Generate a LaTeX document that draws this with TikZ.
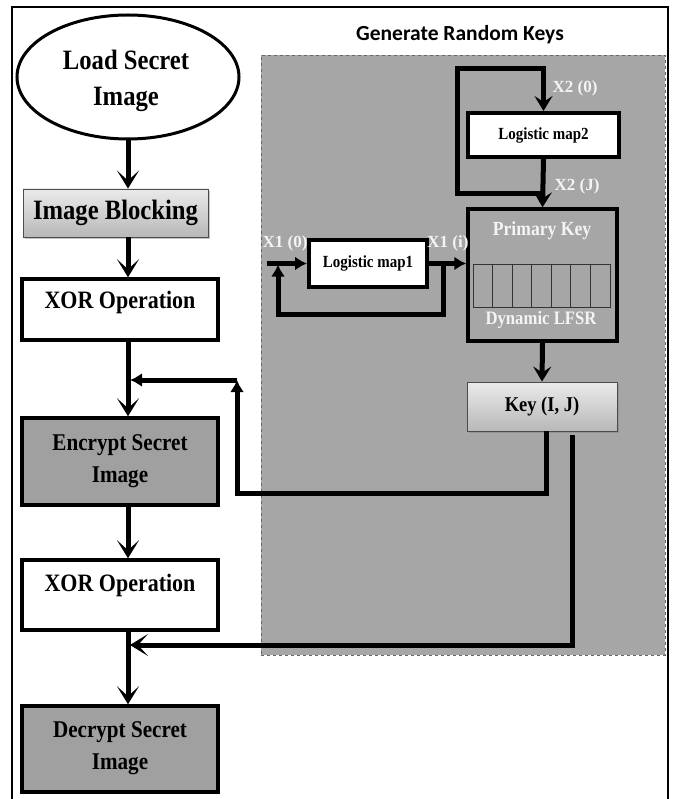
\documentclass[tikz,border=0pt]{standalone}
\usepackage{fontspec}
\setmainfont{Liberation Serif}
\newfontfamily\titlefont{Carlito}
\usepackage{graphicx}
\usetikzlibrary{arrows.meta,shapes.geometric,shadows}
\newcommand{\cz}[1]{\scalebox{0.88}[1]{#1}}
\newcommand{\fs}[1]{\fontsize{#1}{#1}\selectfont}
\definecolor{regiongray}{HTML}{A6A6A6}
\definecolor{boxgray}{HTML}{A0A0A0}
\definecolor{lbl}{HTML}{F4F4F4}
\begin{document}
\begin{tikzpicture}[x=1pt,y=-1pt,
  box/.style={draw=black,line width=3.5pt,inner sep=0pt,fill=white},
  graybox/.style={box,fill=boxgray},
  shadebox/.style={draw=black!70,line width=0.9pt,inner sep=0pt,top color=white!92!black,bottom color=black!28,drop shadow={shadow xshift=2pt,shadow yshift=-2pt,opacity=0.45}},
  txt/.style={font=\bfseries,align=center,inner sep=0pt},
  wlbl/.style={font=\bfseries\fs{17},text=lbl,inner sep=0pt},
  flow/.style={line width=5pt},
  mainarr/.style={flow,-{Stealth[length=18pt,width=22pt,inset=10pt]}},
  tri/.style={line width=5pt,-{Latex[length=12pt,width=14pt]}},
  stl/.style={line width=5pt,-{Stealth[length=15pt,width=18pt,inset=6pt]}}
]
\useasboundingbox (0,0) rectangle (673,799);
\fill[white] (0,0) rectangle (673,799);
% outer frame
\draw[line width=1.2pt] (12,799) -- (12,7) -- (668,7) -- (668,799);

% region
\node[draw=black!60,dashed,line width=0.8pt,fill=regiongray,minimum width=404,minimum height=600,inner sep=0] (region) at (463,355) {};
\node[font=\titlefont\bfseries\fs{21.5}] (title) at (460,35) {Generate Random Keys};

% left column
\coordinate (mx) at (128,0);
\node[ellipse,draw,line width=3pt,fill=white,minimum width=222,minimum height=124,inner sep=0] (load) at (128,77) {};
\node[txt,font=\bfseries\fontsize{28}{36}\selectfont] (loadt) at (126,81) {\cz{Load Secret}\\\cz{Image}};
\node[shadebox,minimum width=185,minimum height=48] (ib) at (115.5,213) {};
\node[txt,font=\bfseries\fs{28}] (ibt) at (ib.center) {\cz{Image Blocking}};
\node[box,minimum width=196,minimum height=61] (xor1) at (120,309.5) {};
\node[txt,font=\bfseries\fs{25}] (xor1t) at (120,302) {\cz{XOR Operation}};
\node[graybox,minimum width=196,minimum height=87] (enc) at (120,461.5) {};
\node[txt,font=\bfseries\fontsize{24}{32}\selectfont] (enct) at (120,461) {\cz{Encrypt Secret}\\\cz{Image}};
\node[box,minimum width=196,minimum height=70] (xor2) at (120,595) {};
\node[txt,font=\bfseries\fs{25}] (xor2t) at (120,585) {\cz{XOR Operation}};
\node[graybox,minimum width=196,minimum height=86] (dec) at (120,749) {};
\node[txt,font=\bfseries\fontsize{24}{32}\selectfont] (dect) at (120,748) {\cz{Decrypt Secret}\\\cz{Image}};

% main arrows
\draw[mainarr] (load.south) -- (mx |- ib.north);
\draw[mainarr] (mx |- ib.south) -- (mx |- xor1.north);
\draw[mainarr] (mx |- xor1.south) -- (mx |- enc.north);
\draw[mainarr] (mx |- enc.south) -- (mx |- xor2.north);
\draw[mainarr] (mx |- xor2.south) -- (mx |- dec.north);

% key generation
\node[box,line width=4pt,minimum width=151,minimum height=44] (map2) at (543.5,135) {};
\node[txt,font=\bfseries\fs{17}] (map2t) at (map2.center) {\cz{Logistic map2}};
\node[draw=black,line width=3.5pt,minimum width=149,minimum height=132,inner sep=0] (pk) at (542.5,275) {};
\node[txt,font=\bfseries\fs{20}] (pkt) at (542,231) {\color{lbl}\cz{Primary Key}};
\node[txt,font=\bfseries\fs{19}] (lfsrt) at (541,320) {\color{lbl}\cz{Dynamic LFSR}};
\node[draw=black!80,line width=0.9pt,minimum width=137,minimum height=43,inner sep=0] (lfsr) at (541.5,285.5) {};
\foreach \i in {1,...,6} \draw[black!80,line width=0.9pt] (473+\i*19.57,264) -- (473+\i*19.57,307);
\node[box,line width=4pt,minimum width=118,minimum height=47] (map1) at (368,263.5) {};
\node[txt,font=\bfseries\fs{17}] (map1t) at (map1.center) {\cz{Logistic map1}};
\node[shadebox,minimum width=150,minimum height=49] (key) at (542,406.5) {};
\node[txt,font=\bfseries\fs{21}] (keyt) at (key.center) {\cz{Key (I, J)}};

% map2 loop
\coordinate (lt) at (457,69);
\coordinate (lb) at (457,194);
\draw[stl] (map2.south) -- (pk.north);
\draw[stl] (map2.north |- lb) -- (lb) -- (lt) -- (map2.north |- lt) -- (map2.north);
\node[wlbl] (x20) at (575,88) {X2 (0)};
\node[wlbl] (x2j) at (577,186) {X2 (J)};

% map1 loop
\coordinate (in1) at (267,263.5);
\coordinate (fb) at (443,314);
\coordinate (fbl) at (278,314);
\draw[tri] (in1) -- (map1.west);
\draw[tri] (map1.east) -- (map1.east -| pk.west);
\draw[tri,shorten >=1pt] (fb |- map1.east) -- (fb) -- (fbl) -- (fbl |- in1);
\node[wlbl] (x10) at (285,243) {X1 (0)};
\node[wlbl] (x1i) at (448,243) {X1 (i)};

% primary key -> key
\draw[stl] (pk.south) -- (key.north);

% key outputs
\coordinate (k1) at (546,431);
\coordinate (k2) at (572,435);
\coordinate (c1) at (237,380);
\coordinate (ybot) at (0,493);
\coordinate (j1) at (128,380);
\coordinate (j2) at (128,645);
\draw[tri] (k1) -- (k1 |- ybot) -- (c1 |- ybot) -- (c1);
\draw[tri,shorten >=2pt] (c1) -- (j1);
\draw[mainarr,shorten >=2pt] (k2) -- (k2 |- j2) -- (j2);
\end{tikzpicture}
\end{document}
